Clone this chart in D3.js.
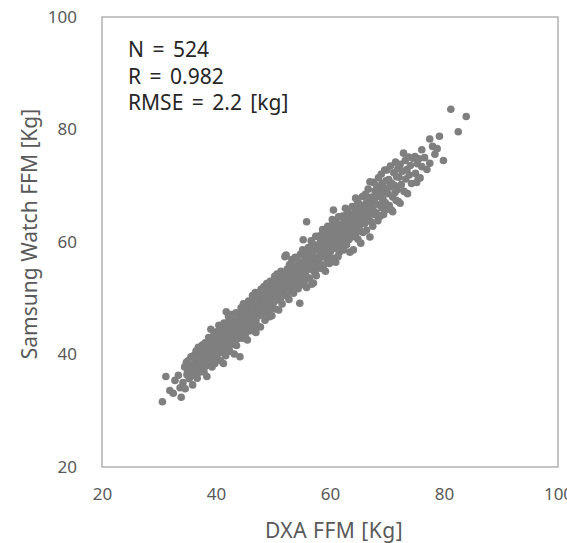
<!DOCTYPE html>
<html>
<head>
<meta charset="utf-8">
<script src="https://cdn.jsdelivr.net/npm/d3@7"></script>
<style>
  body { margin: 0; background: #fff; }
  svg text { font-family: "Noto Sans", "Open Sans", sans-serif; }
</style>
</head>
<body>
<div id="chart"></div>
<script>
// Axis ticks and labels
const xTicks = [20, 40, 60, 80, 100];
const yTicks = [20, 40, 60, 80, 100];
const xTitle = "DXA FFM [Kg]";
const yTitle = "Samsung Watch FFM [Kg]";
const statLines = ["N = 524", "R = 0.982", "RMSE = 2.2 [kg]"];

// [DXA FFM, Samsung Watch FFM]
const samples = [
  [30.6,31.6],[31.2,36.1],[32.5,33.1],[33.9,32.4],[32.8,35.4],[33.4,36.3],[33.7,34.1],[31.9,33.6],
  [34.2,35.0],[34.6,33.9],[34.5,37.8],[34.9,36.4],[35.1,38.9],[35.3,35.7],[35.4,37.2],[35.6,39.6],
  [35.9,34.6],[35.0,36.9],[35.7,38.1],[34.8,38.6],[35.8,36.3],[35.2,37.6],
  [36.0,37.4],[36.1,39.8],[36.2,36.6],[36.3,38.5],[36.5,40.6],[36.6,37.9],[36.7,35.8],[36.8,39.2],
  [36.9,41.3],[37.0,38.0],[37.1,39.9],[37.2,36.9],[37.3,40.7],[37.4,38.6],[37.5,37.3],[37.6,41.7],
  [37.7,39.4],[37.8,40.1],[37.9,36.9],[37.95,38.8],
  [38.0,39.7],[38.1,42.1],[38.2,37.9],[38.3,40.8],[38.4,36.1],[38.5,41.5],[38.6,39.3],[38.7,43.0],
  [38.8,40.2],[38.9,38.6],[39.0,41.9],[39.1,44.5],[39.1,39.8],[39.2,40.9],[39.3,37.8],[39.4,42.6],
  [39.5,41.2],[39.5,39.0],[39.6,43.4],[39.7,40.4],[39.8,38.4],[39.8,42.0],[39.9,41.1],[40.0,39.6],
  [39.3,42.2],[38.6,41.8],[39.6,40.3],
  [40.0,43.6],[40.1,41.2],[40.2,44.1],[40.2,39.9],[40.3,42.8],[40.4,40.5],[40.5,45.2],[40.6,42.0],
  [40.7,43.4],[40.8,38.9],[40.8,41.6],[40.9,44.6],[41.0,42.5],[41.1,40.3],[41.2,43.9],[41.3,38.4],
  [41.3,42.2],[41.4,45.6],[41.5,41.0],[41.6,43.3],[41.7,39.8],[41.8,47.6],[41.8,42.7],[41.9,44.8],
  [41.9,40.9],[41.5,42.9],[40.6,43.8],[41.0,41.7],[41.7,44.0],[40.4,42.4],
  [42.0,43.1],[42.0,45.5],[42.1,41.4],[42.2,44.2],[42.3,46.3],[42.3,42.5],[42.4,40.6],[42.5,44.9],
  [42.6,43.4],[42.7,47.1],[42.8,41.8],[42.8,45.0],[42.9,43.9],[43.0,46.0],[43.1,42.2],[43.2,44.6],
  [43.2,40.1],[43.3,45.8],[43.4,43.2],[43.5,47.4],[43.6,44.3],[43.6,41.6],[43.7,45.4],[43.8,42.8],
  [43.9,46.6],[43.9,44.0],[42.5,42.7],[43.0,44.4],[43.4,45.2],[42.2,46.8],[43.7,43.4],[42.9,41.9],
  [42.6,45.9],
  [44.0,45.4],[44.1,47.2],[44.2,43.5],[44.2,39.6],[44.3,46.1],[44.4,48.3],[44.5,44.6],[44.6,46.9],
  [44.6,42.9],[44.7,45.6],[44.8,49.0],[44.9,44.1],[45.0,46.5],[45.1,47.8],[45.1,43.4],[45.2,45.3],
  [45.3,48.6],[45.4,46.2],[45.5,42.6],[45.5,47.3],[45.6,45.0],[45.7,49.5],[45.8,46.7],[45.8,44.2],
  [45.9,48.0],[45.9,45.7],[44.4,45.8],[44.9,47.5],[45.3,44.6],[45.7,47.0],[44.7,43.8],[45.2,46.9],
  [46.0,47.1],[46.1,49.4],[46.2,45.3],[46.3,48.2],[46.4,50.5],[46.5,46.4],[46.6,44.2],[46.7,48.9],
  [46.8,47.5],[46.9,51.0],[47.0,46.0],[47.1,48.4],[47.2,49.8],[47.3,45.1],[47.4,47.9],[47.5,50.2],
  [47.6,46.9],[47.7,48.7],[47.8,44.9],[47.9,49.3],[47.9,51.6],[46.4,47.6],[46.9,49.1],[47.3,47.0],
  [47.6,48.1],[46.2,48.5],[47.0,43.9],[47.8,47.4],[46.6,46.9],
  [48.0,48.6],[48.1,50.9],[48.2,47.2],[48.3,49.8],[48.4,52.1],[48.5,48.0],[48.6,46.1],[48.7,50.5],
  [48.8,49.0],[48.9,52.6],[49.0,47.6],[49.1,50.2],[49.2,51.4],[49.3,48.5],[49.4,46.7],[49.5,49.9],
  [49.5,53.0],[49.6,48.1],[49.7,51.1],[49.8,46.9],[49.9,50.4],[48.4,49.4],[48.9,48.3],[49.3,51.9],
  [49.7,49.2],[48.6,51.7],
  [50.0,51.8],[50.1,49.3],[50.2,53.2],[50.3,50.6],[50.4,48.1],[50.5,52.4],[50.6,51.0],[50.7,54.3],
  [50.8,49.7],[50.9,52.0],[51.0,47.9],[51.1,53.6],[51.2,51.3],[51.3,50.0],[51.4,54.8],[51.5,52.6],
  [51.6,49.0],[51.7,51.7],[51.8,53.9],[51.9,50.5],[50.5,50.3],[51.0,52.9],[51.5,51.1],[50.3,53.9],
  [50.8,51.6],
  [52.0,54.4],[52.1,57.4],[52.2,51.6],[52.3,57.7],[52.3,53.3],[52.4,50.4],[52.5,55.2],[52.6,52.5],
  [52.7,54.1],[52.8,49.8],[52.9,56.0],[53.0,53.0],[53.1,51.4],[53.2,54.9],[53.3,56.9],[53.4,52.1],
  [53.5,54.3],[53.6,50.9],[53.7,55.6],[53.8,53.6],[53.9,57.3],[52.5,53.8],[53.3,55.9],[53.8,52.4],
  [54.0,55.3],[54.1,53.0],[54.2,57.0],[54.3,54.2],[54.4,51.7],[54.5,56.1],[54.6,54.8],[54.7,49.1],
  [54.8,57.8],[54.9,53.5],[55.0,55.9],[55.1,52.4],[55.2,58.6],[55.3,60.4],[55.4,54.6],[55.5,56.7],
  [55.6,53.1],[55.7,57.4],[55.8,55.2],[55.9,63.6],[55.9,51.9],[54.6,56.4],[55.2,55.7],[55.7,54.3],
  [56.0,57.8],[56.1,55.1],[56.2,59.0],[56.3,56.3],[56.4,53.6],[56.5,58.1],[56.6,56.0],[56.7,60.2],
  [56.8,52.5],[56.9,57.4],[57.0,55.0],[57.1,59.6],[57.1,52.7],[57.2,56.8],[57.3,58.7],[57.4,54.5],
  [57.5,61.0],[57.6,57.2],[57.7,55.6],[57.8,59.2],[57.9,56.5],[56.4,57.1],[57.0,58.2],[57.6,54.0],
  [58.0,58.9],[58.1,56.4],[58.2,61.1],[58.3,58.0],[58.4,55.3],[58.5,60.3],[58.6,57.6],[58.7,62.2],
  [58.8,59.1],[58.9,55.9],[59.0,60.6],[59.1,58.3],[59.2,54.8],[59.3,61.5],[59.4,59.6],[59.5,57.0],
  [59.6,62.8],[59.7,58.6],[59.8,60.1],[59.9,56.2],[58.5,59.0],[59.1,61.9],[59.6,57.8],[58.3,60.0],
  [58.8,57.4],
  [60.0,61.0],[60.1,58.3],[60.2,62.4],[60.3,59.7],[60.4,64.0],[60.5,57.1],[60.6,65.7],[60.6,60.8],
  [60.7,62.9],[60.8,58.9],[60.9,61.6],[61.0,56.4],[61.1,63.6],[61.2,60.2],[61.3,59.0],[61.4,62.1],
  [61.5,64.5],[61.6,58.1],[61.7,61.2],[61.8,63.0],[61.9,59.6],[60.3,61.7],[60.9,60.0],[61.4,57.4],
  [61.8,61.9],[60.5,63.3],
  [62.0,62.6],[62.1,60.1],[62.2,64.6],[62.3,61.7],[62.4,58.6],[62.5,63.5],[62.6,61.1],[62.7,66.0],
  [62.8,62.3],[62.9,59.5],[63.0,64.1],[63.1,61.4],[63.2,65.3],[63.3,60.4],[63.4,62.8],[63.5,58.2],
  [63.6,64.8],[63.7,62.0],[63.8,60.9],[63.9,66.3],[62.4,63.0],[62.9,64.9],[63.3,63.4],[63.8,63.6],
  [62.6,59.9],[63.5,61.3],[62.1,63.2],
  [64.0,64.4],[64.1,58.6],[64.2,62.2],[64.3,66.2],[64.4,63.6],[64.5,61.0],[64.6,65.5],[64.7,63.0],
  [64.8,67.4],[64.9,60.5],[65.0,64.6],[65.1,62.4],[65.2,66.7],[65.3,64.0],[65.4,59.8],[65.5,65.9],
  [65.6,63.3],[65.7,68.1],[65.8,61.7],[65.9,64.9],[64.2,65.0],[64.7,61.8],[65.1,65.8],[65.6,66.3],
  [64.5,67.8],[65.8,63.9],
  [66.0,66.4],[66.1,63.3],[66.2,68.5],[66.3,65.2],[66.4,62.1],[66.5,67.3],[66.6,64.6],[66.7,69.4],
  [66.8,66.0],[67.0,60.9],[67.0,70.7],[67.1,65.5],[67.2,63.6],[67.3,68.0],[67.4,66.8],[67.5,62.8],
  [67.6,70.6],[67.7,67.2],[67.8,64.9],[67.9,69.1],[66.4,66.9],[67.0,67.8],[67.5,65.9],[66.8,64.0],
  [66.2,66.1],
  [68.0,67.9],[68.1,65.2],[68.2,70.0],[68.3,68.6],[68.4,63.8],[68.5,71.4],[68.6,66.6],[68.7,69.3],
  [68.8,64.6],[68.9,68.0],[69.0,72.1],[69.1,66.1],[69.2,70.4],[69.3,67.5],[69.4,64.9],[69.5,69.6],
  [69.6,72.8],[69.7,67.0],[69.8,70.9],[69.9,65.8],[68.6,68.9],[69.3,69.0],
  [70.0,72.8],[70.1,68.6],[70.3,71.1],[70.4,66.5],[70.5,69.8],[70.6,73.5],[70.8,65.7],[70.8,70.5],
  [71.0,65.4],[71.0,68.0],[71.2,72.3],[71.3,70.1],[71.5,74.2],[71.6,67.4],[71.7,71.6],[71.8,69.3],
  [71.9,73.0],[71.4,68.8],
  [72.0,67.2],[72.1,71.5],[72.3,66.9],[72.3,73.8],[72.5,70.2],[72.7,72.6],[72.9,75.8],[73.0,69.0],
  [73.2,74.5],[73.3,71.2],[73.5,72.9],[73.6,68.6],[73.8,75.1],[73.9,71.9],
  [74.1,73.6],[74.3,70.4],[74.5,74.9],[74.9,75.2],[75.0,72.2],[75.2,70.6],[75.5,71.3],[75.3,73.9],
  [75.8,71.4],[75.6,74.8],
  [76.1,76.4],[76.1,73.4],[76.6,75.0],[77.0,72.9],[77.5,74.0],[77.5,78.3],
  [78.4,75.6],[79.2,78.8],[79.9,74.5],[78.0,77.0],[78.8,76.6],
  [82.5,79.6],[81.2,83.6],[83.9,82.3]
];

const width = 567, height = 543;
const margin = { top: 17, right: 9, bottom: 76, left: 102 };

const svg = d3.select("#chart")
  .append("svg")
  .attr("width", width)
  .attr("height", height);

const x = d3.scaleLinear()
  .domain([20, 100])
  .range([margin.left, width - margin.right]);

const y = d3.scaleLinear()
  .domain([20, 100])
  .range([height - margin.bottom, margin.top]);

// Plot frame
svg.append("rect")
  .attr("x", x(20))
  .attr("y", y(100))
  .attr("width", x(100) - x(20))
  .attr("height", y(20) - y(100))
  .attr("fill", "none")
  .attr("stroke", "#a6a6a6")
  .attr("stroke-width", 1.3);

// Axes (labels only, no tick marks)
const xAxis = svg.append("g")
  .attr("transform", "translate(0," + (y(20) + 21) + ")")
  .call(d3.axisBottom(x).tickValues(xTicks).tickSize(0).tickPadding(0));
xAxis.select(".domain").remove();
xAxis.selectAll("text")
  .attr("dy", "0.71em")
  .attr("fill", "#595959")
  .style("font-size", "17px");

const yAxis = svg.append("g")
  .attr("transform", "translate(" + (x(20) - 25) + ",0)")
  .call(d3.axisLeft(y).tickValues(yTicks).tickSize(0).tickPadding(0));
yAxis.select(".domain").remove();
yAxis.selectAll("text")
  .attr("fill", "#595959")
  .style("font-size", "17px");

// Points
svg.append("g")
  .selectAll("circle")
  .data(samples)
  .join("circle")
  .attr("cx", d => x(d[0]))
  .attr("cy", d => y(d[1]))
  .attr("r", 3.8)
  .attr("fill", "#7f7f7f");

// Axis titles
svg.append("text")
  .attr("x", 334)
  .attr("y", 538)
  .attr("text-anchor", "middle")
  .attr("fill", "#595959")
  .style("font-size", "21px")
  .style("letter-spacing", "0.5px")
  .text(xTitle);

svg.append("text")
  .attr("transform", "translate(37,234) rotate(-90)")
  .attr("text-anchor", "middle")
  .attr("fill", "#595959")
  .style("font-size", "21px")
  .text(yTitle);

// Stats box
svg.append("g")
  .selectAll("text")
  .data(statLines)
  .join("text")
  .attr("x", 128)
  .attr("y", (d, i) => 57 + i * 26.5)
  .attr("fill", "#262626")
  .style("font-size", "21px")
  .style("word-spacing", "3px")
  .text(d => d);
</script>
</body>
</html>
